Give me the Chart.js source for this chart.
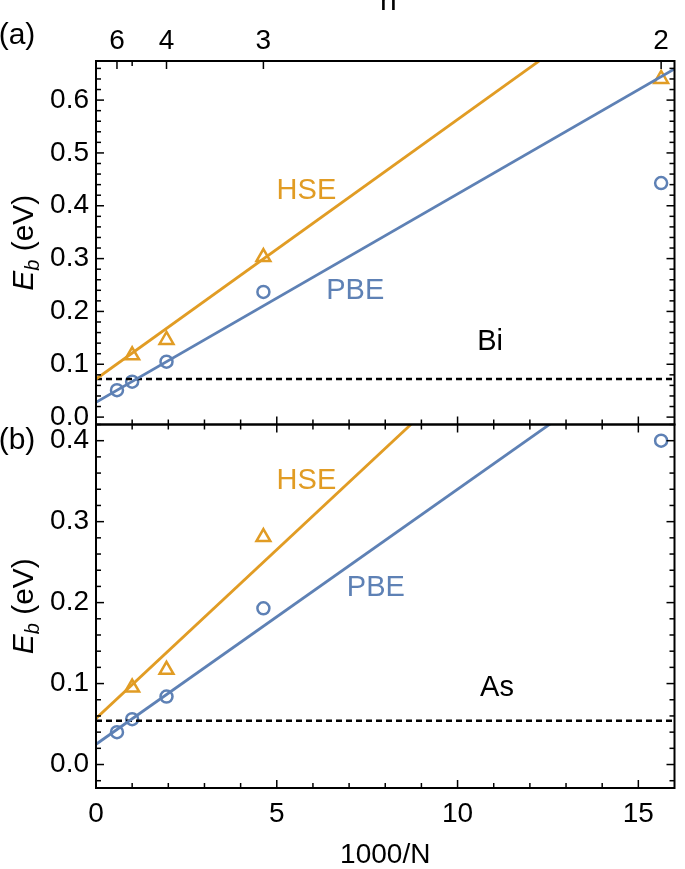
<!DOCTYPE html>
<html>
<head>
<meta charset="utf-8">
<script src="https://cdn.jsdelivr.net/npm/chart.js@4.4.1/dist/chart.umd.min.js"></script>
<style>
  html, body { margin:0; padding:0; background:#fff; }
  #wrap { position:relative; width:685px; height:869px; }
</style>
</head>
<body>
<div id="wrap"><canvas id="ebChart"></canvas></div>
<script>
// 1000/N for n = 6, 5, 4, 3, 2
const invN = [0.58, 1.0, 1.95, 4.63, 15.63];
const nLabels = ['6', '', '4', '3', '2'];

// (a) Bi
const biPbe = [0.051, 0.067, 0.105, 0.237, 0.443];
const biHseX = [1.0, 1.95, 4.63, 15.63];
const biHse = [0.117, 0.146, 0.303, 0.640];
const biPbeFit = [0.028, 0.659];   // value at 1000/N = 0 and 16
const biHseFit = [0.072, 0.858];
const biLimit = 0.072;

// (b) As
const asPbe = [0.040, 0.056, 0.084, 0.193, 0.400];
const asHseX = [1.0, 1.95, 4.63];
const asHse = [0.095, 0.117, 0.281];
const asPbeFit = [0.025, 0.529];
const asHseFit = [0.057, 0.724];
const asLimit = 0.054;

const fitX = [0, 16];
const xTicks = [0, 5, 10, 15];
const biTicks = [0, 0.1, 0.2, 0.3, 0.4, 0.5, 0.6];
const asTicks = [0, 0.1, 0.2, 0.3, 0.4];

const orange = '#E19C24';
const blue = '#5E81B5';
const FONT = '"Liberation Sans", Arial, sans-serif';

const pts = (xs, ys) => xs.map((x, i) => ({x: x, y: ys[i]}));
const flat = (xs, v) => xs.map(x => ({x: x, y: v}));

function fitLine(data, color, axis) {
  return { data: data, yAxisID: axis, showLine: true, borderColor: color, borderWidth: 2.8, pointRadius: 0 };
}
function dashLine(data, axis) {
  return { data: data, yAxisID: axis, showLine: true, borderColor: '#000', borderWidth: 2.5, borderDash: [6, 4], pointRadius: 0 };
}
function marks(data, color, style, r, axis) {
  return { data: data, yAxisID: axis, showLine: false, pointStyle: style, pointRadius: r,
           borderColor: color, backgroundColor: 'rgba(0,0,0,0)', pointBorderWidth: 2.5 };
}

// keep each panel's lines inside its own frame
const panelClip = {
  id: 'panelClip',
  beforeDatasetDraw(chart, args) {
    const ys = chart.scales[chart.data.datasets[args.index].yAxisID];
    const a = chart.chartArea;
    chart.ctx.save();
    chart.ctx.beginPath();
    chart.ctx.rect(a.left, ys.top, a.right - a.left, ys.bottom - ys.top);
    chart.ctx.clip();
  },
  afterDatasetDraw(chart) {
    chart.ctx.restore();
  }
};

const frame = {
  id: 'frame',
  afterDatasetsDraw(chart) {
    const {ctx, chartArea: a, scales} = chart;
    const x = scales.x;
    const seg = (x1, y1, x2, y2) => { ctx.beginPath(); ctx.moveTo(x1, y1); ctx.lineTo(x2, y2); ctx.stroke(); };
    ctx.save();
    ctx.strokeStyle = '#000';
    [scales.yBi, scales.yAs].forEach((ys, k) => {
      ctx.lineWidth = 2;
      ctx.strokeRect(a.left, ys.top, a.right - a.left, ys.bottom - ys.top);
      ctx.lineWidth = 1.5;
      for (let i = Math.ceil(ys.min / 0.02); i * 0.02 <= ys.max + 1e-9; i++) {
        const py = ys.getPixelForValue(i * 0.02);
        const len = i % 5 === 0 ? 8 : 5;
        seg(a.left, py, a.left + len, py);
        seg(a.right, py, a.right - len, py);
      }
      for (let v = 1; v < 16; v++) {
        const px = x.getPixelForValue(v);
        const len = v % 5 === 0 ? 8 : 5;
        seg(px, ys.bottom, px, ys.bottom - len);
        if (k === 1) seg(px, ys.top, px, ys.top + len);
      }
    });
    const t = scales.xTop;
    invN.forEach((v, i) => {
      const px = t.getPixelForValue(v);
      seg(px, a.top, px, a.top + (nLabels[i] ? 8 : 5));
    });
    ctx.restore();
  }
};

function drawYTitle(ctx, cx, cy) {
  ctx.save();
  ctx.translate(cx, cy);
  ctx.rotate(-Math.PI / 2);
  ctx.fillStyle = '#000';
  ctx.textBaseline = 'alphabetic';
  ctx.textAlign = 'left';
  const big = 'italic 30px ' + FONT, small = 'italic 20px ' + FONT, reg = '30px ' + FONT;
  ctx.font = big; const wE = ctx.measureText('E').width;
  ctx.font = small; const wb = ctx.measureText('b').width;
  ctx.font = reg; const wr = ctx.measureText(' (eV)').width;
  let px = -(wE + wb + wr) / 2;
  ctx.font = big; ctx.fillText('E', px, 0); px += wE;
  ctx.font = small; ctx.fillText('b', px, 6); px += wb;
  ctx.font = reg; ctx.fillText(' (eV)', px, 0);
  ctx.restore();
}

const labels = {
  id: 'labels',
  afterDraw(chart) {
    const {ctx, scales} = chart;
    const x = scales.x;
    const notes = [
      ['HSE', 5.82, 0.428, 'yBi', orange],
      ['PBE', 7.17, 0.239, 'yBi', blue],
      ['Bi', 10.9, 0.142, 'yBi', '#000'],
      ['HSE', 5.82, 0.350, 'yAs', orange],
      ['PBE', 7.74, 0.218, 'yAs', blue],
      ['As', 11.09, 0.094, 'yAs', '#000']
    ];
    ctx.save();
    ctx.textAlign = 'center';
    ctx.textBaseline = 'middle';
    ctx.font = '29px ' + FONT;
    notes.forEach(n => {
      ctx.fillStyle = n[4];
      ctx.fillText(n[0], x.getPixelForValue(n[1]), scales[n[3]].getPixelForValue(n[2]));
    });
    ctx.fillStyle = '#000';
    ctx.font = '30px ' + FONT;
    ctx.fillText('(a)', 17, 36);
    ctx.fillText('(b)', 17, 441);
    ctx.textBaseline = 'alphabetic';
    ctx.fillText('n', (chart.chartArea.left + chart.chartArea.right) / 2 + 3, 10);
    ctx.restore();
    [scales.yBi, scales.yAs].forEach(ys => drawYTitle(ctx, 33, (ys.top + ys.bottom) / 2));
  }
};

const tickFont = { family: FONT, size: 28 };

new Chart(document.getElementById('ebChart'), {
  type: 'scatter',
  data: {
    datasets: [
      fitLine(pts(fitX, biHseFit), orange, 'yBi'),
      fitLine(pts(fitX, biPbeFit), blue, 'yBi'),
      dashLine(flat(fitX, biLimit), 'yBi'),
      marks(pts(invN, biPbe), blue, 'circle', 6, 'yBi'),
      marks(pts(biHseX, biHse), orange, 'triangle', 8, 'yBi'),
      fitLine(pts(fitX, asHseFit), orange, 'yAs'),
      fitLine(pts(fitX, asPbeFit), blue, 'yAs'),
      dashLine(flat(fitX, asLimit), 'yAs'),
      marks(pts(invN, asPbe), blue, 'circle', 6, 'yAs'),
      marks(pts(asHseX, asHse), orange, 'triangle', 8, 'yAs')
    ]
  },
  options: {
    responsive: true,
    maintainAspectRatio: false,
    animation: false,
    layout: { padding: { left: 0, right: 1, top: 0, bottom: 0 } },
    plugins: { legend: { display: false }, tooltip: { enabled: false } },
    scales: {
      x: {
        type: 'linear', position: 'bottom', min: 0, max: 16,
        afterBuildTicks: s => { s.ticks = xTicks.map(v => ({value: v})); },
        ticks: { font: tickFont, color: '#000', padding: 9, maxRotation: 0, autoSkip: false },
        grid: { display: false, drawTicks: false },
        border: { display: false },
        title: { display: true, text: '1000/N', color: '#000', padding: 0, font: { family: FONT, size: 28, lineHeight: 1 } },
        afterFit: s => { s.height = 81; }
      },
      xTop: {
        type: 'linear', position: 'top', min: 0, max: 16,
        afterBuildTicks: s => { s.ticks = invN.map(v => ({value: v})); },
        ticks: { font: tickFont, color: '#000', padding: 3, maxRotation: 0, autoSkip: false,
                 callback: (v, i) => nLabels[i] },
        grid: { display: false, drawTicks: false },
        border: { display: false },
        afterFit: s => { s.height = 61; }
      },
      yBi: {
        type: 'linear', position: 'left', stack: 'panels', stackWeight: 1, weight: 1,
        min: -0.014, max: 0.674,
        afterBuildTicks: s => { s.ticks = biTicks.map(v => ({value: v})); },
        ticks: { font: tickFont, color: '#000', padding: 7, autoSkip: false, callback: v => v.toFixed(1) },
        grid: { display: false, drawTicks: false },
        border: { display: false },
        afterFit: s => { s.width = 96; }
      },
      yAs: {
        type: 'linear', position: 'left', stack: 'panels', stackWeight: 1, weight: 0,
        min: -0.029, max: 0.42,
        afterBuildTicks: s => { s.ticks = asTicks.map(v => ({value: v})); },
        ticks: { font: tickFont, color: '#000', padding: 7, autoSkip: false, callback: v => v.toFixed(1) },
        grid: { display: false, drawTicks: false },
        border: { display: false },
        afterFit: s => { s.width = 96; }
      }
    }
  },
  plugins: [panelClip, frame, labels]
});
</script>
</body>
</html>
